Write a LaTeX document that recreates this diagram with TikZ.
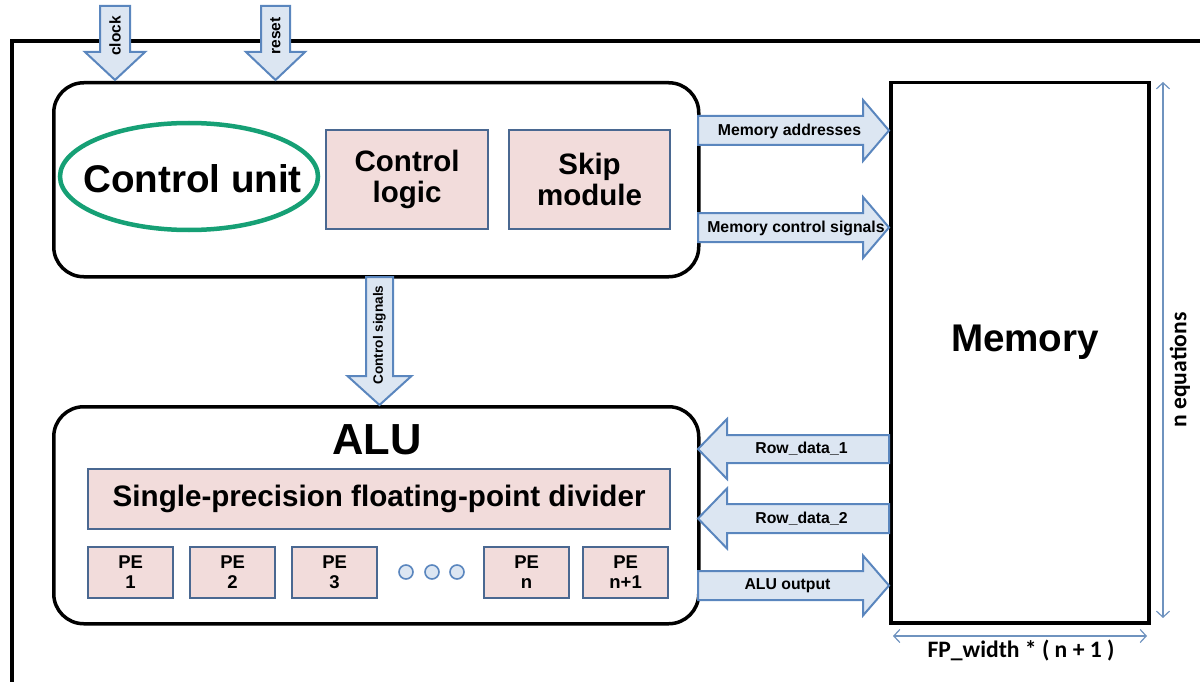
\documentclass[tikz,border=0pt]{standalone}
\usepackage{fontspec}
\setmainfont{Liberation Sans}
\newfontfamily\calibfont{Carlito}
\usetikzlibrary{arrows.meta,shapes.geometric}

\definecolor{pinkfill}{HTML}{F2DCDB}
\definecolor{pinkedge}{HTML}{4A6891}
\definecolor{arrfill}{HTML}{DCE6F2}
\definecolor{arredge}{HTML}{5A86BE}
\definecolor{ringgreen}{HTML}{16A075}
\definecolor{dimblue}{HTML}{6F93BF}

% block arrows: tail, tip, centre line, half shaft, half head, head length
\newcommand\rightblock[6]{%
  \draw[blockarrow] (#1,#3-#4) -- (#2-#6,#3-#4) -- (#2-#6,#3-#5) -- (#2,#3)
    -- (#2-#6,#3+#5) -- (#2-#6,#3+#4) -- (#1,#3+#4) -- cycle;}
\newcommand\leftblock[6]{%
  \draw[blockarrow] (#1,#3-#4) -- (#2+#6,#3-#4) -- (#2+#6,#3-#5) -- (#2,#3)
    -- (#2+#6,#3+#5) -- (#2+#6,#3+#4) -- (#1,#3+#4) -- cycle;}
\newcommand\downblock[6]{%
  \draw[blockarrow] (#3-#4,#1) -- (#3-#4,#2-#6) -- (#3-#5,#2-#6) -- (#3,#2)
    -- (#3+#5,#2-#6) -- (#3+#4,#2-#6) -- (#3+#4,#1) -- cycle;}

\tikzset{
  unitbox/.style={draw=black, line width=3.5pt, rounded corners=30pt,
    anchor=north west, inner sep=0pt},
  subbox/.style={draw=pinkedge, fill=pinkfill, line width=2.2pt, align=center,
    anchor=north west, inner sep=0pt,
    font=\bfseries\fontsize{29.5pt}{31pt}\selectfont},
  pebox/.style={subbox, minimum width=85pt, minimum height=51pt,
    font=\bfseries\fontsize{18.5pt}{20pt}\selectfont},
  blockarrow/.style={draw=arredge, fill=arrfill, line width=2pt, line join=miter},
  arrlabel/.style={font=\bfseries\fontsize{15.8pt}{17pt}\selectfont, inner sep=0pt},
  dotnode/.style={circle, draw=arredge, fill=arrfill, line width=1.6pt,
    minimum size=14pt, inner sep=0pt},
  dimline/.style={draw=dimblue, line width=1.2pt,
    {Straight Barb[length=6pt,width=13pt]}-{Straight Barb[length=6pt,width=13pt]}},
  dimlabel/.style={font=\calibfont\bfseries\fontsize{23.6pt}{25pt}\selectfont,
    inner sep=0pt}
}

\begin{document}
\begin{tikzpicture}[x=1pt,y=-1pt]
\useasboundingbox (0,0) rectangle (1200,682);

% outer frame
\coordinate (fbl) at (12,682);
\coordinate (ftl) at (12,41);
\coordinate (ftr) at (1200,41);
\draw[line width=4pt] (fbl) -- (ftl) -- (ftr);

% control unit
\node[unitbox, minimum width=645pt, minimum height=194pt] (cu) at (52,81) {};
\node[ellipse, draw=ringgreen, line width=4.5pt, minimum width=258pt,
  minimum height=107pt, inner sep=0pt] (ring) at (189,176.5) {};
\node[font=\bfseries\fontsize{38.6pt}{40pt}\selectfont, inner sep=0pt]
  (cutxt) at (192.5,179) {Control unit};
\node[subbox, minimum width=162pt, minimum height=99pt] (clogic) at (325,129)
  {Control\\logic};
\node[subbox, minimum width=161pt, minimum height=99pt] (skip) at (508,129)
  {Skip\\module};

% ALU
\node[unitbox, minimum width=645pt, minimum height=217pt] (alu) at (52,405) {};
\node[font=\bfseries\fontsize{43.5pt}{44pt}\selectfont, inner sep=0pt]
  (alutxt) at (377,440) {ALU};
\node[subbox, minimum width=582pt, minimum height=60pt,
  font=\bfseries\fontsize{29.6pt}{30pt}\selectfont] (div) at (87,468)
  {Single-precision floating-point divider};
\node[pebox] (pe1) at (87,546) {PE\\1};
\node[pebox] (pe2) at (189,546) {PE\\2};
\node[pebox] (pe3) at (291,546) {PE\\3};
\node[dotnode] (d1) at (406,572) {};
\node[dotnode] (d2) at (432,572) {};
\node[dotnode] (d3) at (457,572) {};
\node[pebox] (pen) at (483,546) {PE\\n};
\node[pebox] (pen1) at (582,546) {PE\\n+1};

% memory
\node[draw=black, line width=3.5pt, anchor=north west, minimum width=258pt,
  minimum height=540pt, inner sep=0pt] (mem) at (889,81) {};
\node[font=\bfseries\fontsize{38.6pt}{40pt}\selectfont, inner sep=0pt]
  (memtxt) at (1025,342) {Memory};

% inputs
\downblock{6}{80}{115}{15}{30}{28}
\node[arrlabel, rotate=90, font=\bfseries\fontsize{15.5pt}{16pt}\selectfont]
  (clk) at (115,36) {clock};
\downblock{6}{80}{275.5}{14.5}{29.5}{28}
\node[arrlabel, rotate=90, font=\bfseries\fontsize{15.5pt}{16pt}\selectfont]
  (rst) at (275.5,36) {reset};

% control unit to ALU
\downblock{277}{405}{379.5}{13.5}{32}{29}
\node[arrlabel, rotate=90, font=\bfseries\fontsize{13.6pt}{15pt}\selectfont]
  (csig) at (379.5,335) {Control signals};

% control unit to memory
\rightblock{698}{889}{130.5}{14.5}{30.5}{26}
\node[arrlabel] (maddr) at (789.5,131) {Memory addresses};
\rightblock{698}{889}{227.5}{14.5}{30.5}{26}
\node[arrlabel] (mctl) at (796,228) {Memory control signals};

% memory to ALU and back
\leftblock{889}{698}{449}{14}{30}{29}
\node[arrlabel] (row1) at (801.5,449) {Row\_data\_1};
\leftblock{889}{698}{518.5}{14.5}{30}{29}
\node[arrlabel] (row2) at (801.5,518.5) {Row\_data\_2};
\rightblock{698}{889}{585.5}{14.5}{30}{26}
\node[arrlabel] (aluout) at (787.5,586) {ALU output};

% dimensions
\coordinate (vtop) at (1163,82);
\coordinate (vbot) at (1163,618);
\draw[dimline] (vtop) -- (vbot);
\node[dimlabel, rotate=90] (neq) at (1180,370) {n equations};
\coordinate (hl) at (893,636);
\coordinate (hr) at (1147,636);
\draw[dimline] (hl) -- (hr);
\node[dimlabel] (fpw) at (1021,651) {FP\_width * ( n + 1 )};
\end{tikzpicture}
\end{document}
